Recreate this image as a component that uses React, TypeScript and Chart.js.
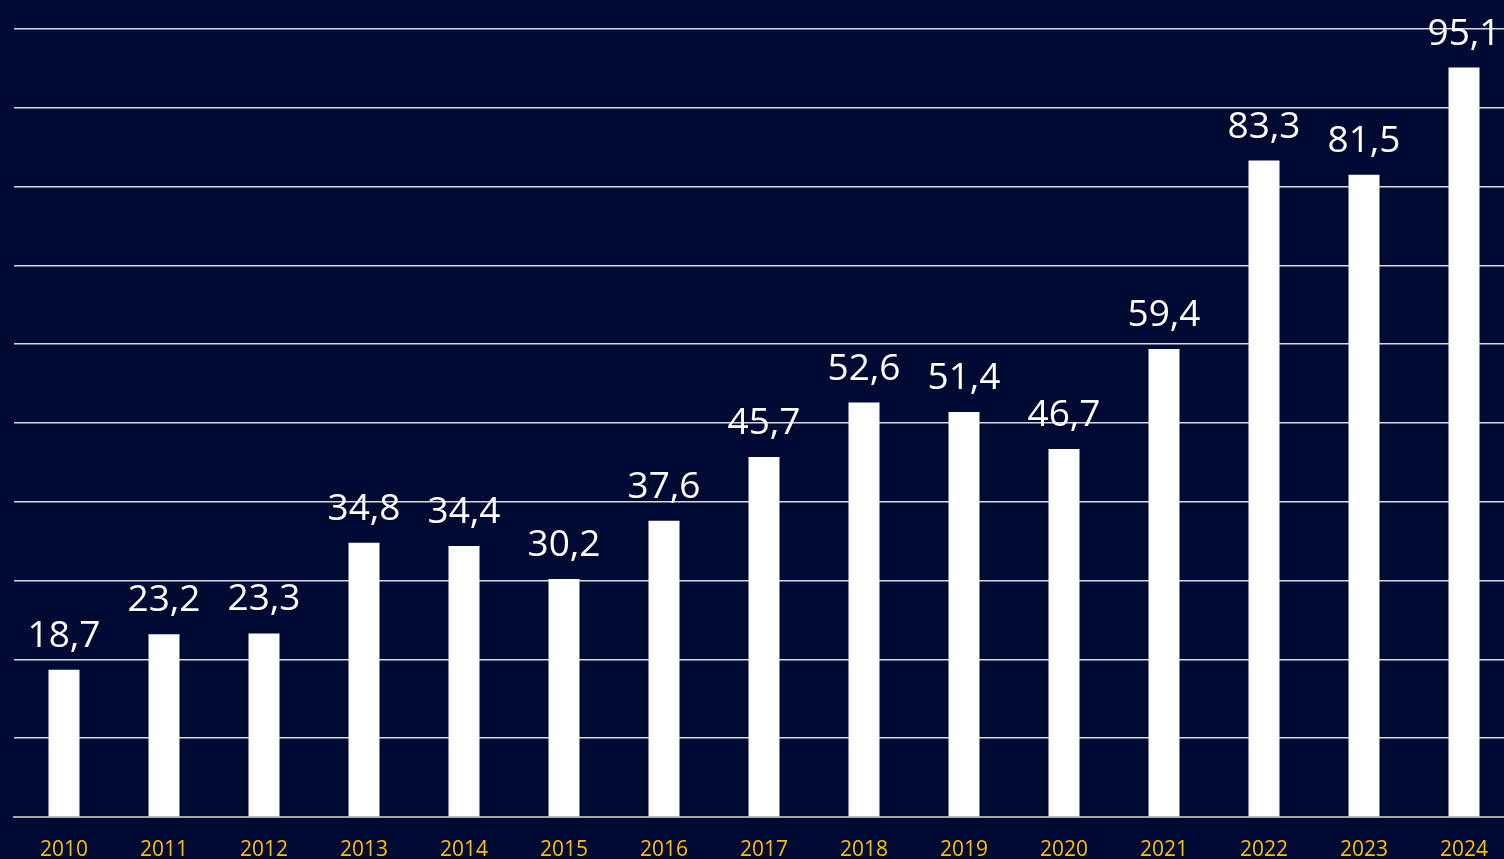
import React, { useEffect, useRef } from "react";
import { Chart, registerables } from "chart.js";

Chart.register(...registerables);

const categories = ["2010", "2011", "2012", "2013", "2014", "2015", "2016", "2017", "2018", "2019", "2020", "2021", "2022", "2023", "2024"];
const values = [18.7, 23.2, 23.3, 34.8, 34.4, 30.2, 37.6, 45.7, 52.6, 51.4, 46.7, 59.4, 83.3, 81.5, 95.1];

const BG = "#000A33";

const labelPlugin = {
  id: "barLabels",
  afterDatasetsDraw(chart: any) {
    const ctx = chart.ctx;
    const meta = chart.getDatasetMeta(0);
    ctx.save();
    ctx.fillStyle = "#FFFFFF";
    ctx.font = "37px 'Open Sans'";
    ctx.textAlign = "center";
    ctx.textBaseline = "alphabetic";
    meta.data.forEach((el: any, i: number) => {
      const txt = values[i].toFixed(1).replace(".", ",");
      ctx.fillText(txt, el.x, el.y - 23);
    });
    ctx.restore();
  },
};

export default function App() {
  const ref = useRef<HTMLCanvasElement | null>(null);
  useEffect(() => {
    document.body.style.margin = "0";
    const chart = new Chart(ref.current as HTMLCanvasElement, {
      type: "bar",
      data: {
        labels: categories,
        datasets: [
          {
            data: values,
            backgroundColor: "#FFFFFF",
            borderWidth: 0,
            barPercentage: 0.31,
            categoryPercentage: 1,
          },
        ],
      },
      options: {
        animation: false,
        responsive: true,
        maintainAspectRatio: false,
        layout: { padding: { left: 14, right: 0, top: 29, bottom: 0 } },
        plugins: { legend: { display: false }, tooltip: { enabled: false } },
        scales: {
          x: {
            grid: { display: false, drawTicks: false, tickLength: 0 },
            border: { display: true, color: "#A6A6A6", width: 2 },
            ticks: { color: "#FFC000", font: { family: "'Open Sans'", size: 21 }, padding: 20, maxRotation: 0 },
            afterFit(scale: any) {
              scale.height = 42;
            },
          },
          y: {
            min: 0,
            max: 100,
            ticks: { display: false, stepSize: 10 },
            grid: { color: "#D9D9D9", lineWidth: 1.5, drawTicks: false, tickLength: 0 },
            border: { display: false },
            afterFit(scale: any) {
              scale.width = 0;
            },
          },
        },
      },
      plugins: [labelPlugin],
    });
    return () => chart.destroy();
  }, []);
  return (
    <div style={{ position: "fixed", left: 0, top: 0, width: 1504, height: 859, background: BG, overflow: "hidden" }}>
      <div style={{ position: "absolute", left: 0, top: 0, width: 1514, height: 859 }}>
        <canvas ref={ref} />
      </div>
    </div>
  );
}
